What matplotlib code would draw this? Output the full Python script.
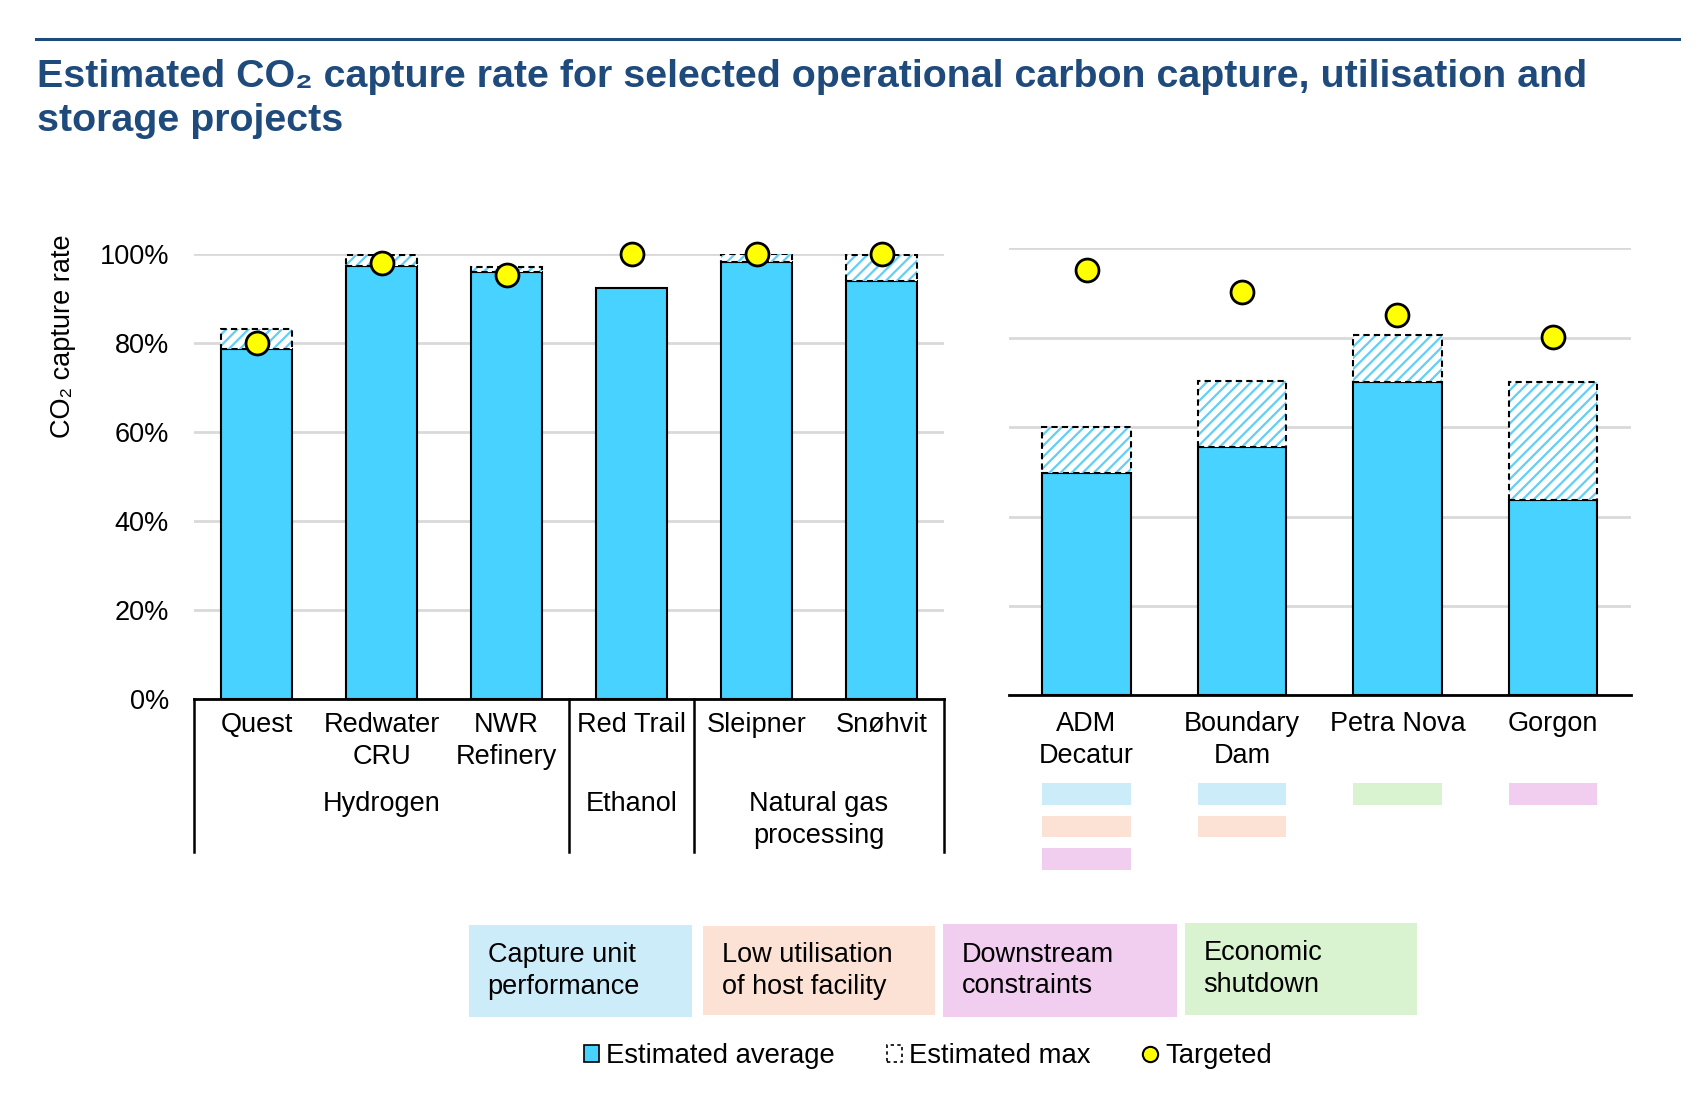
import matplotlib
matplotlib.use("Agg")
import matplotlib.pyplot as plt
from matplotlib.patches import Rectangle, Patch
from matplotlib.lines import Line2D
import matplotlib.transforms as mtransforms

plt.rcParams['font.family'] = ['Liberation Sans', 'DejaVu Sans']
plt.rcParams['hatch.linewidth'] = 1.6

# ---------------- data ----------------
left_projects = ["Quest", "Redwater\nCRU", "NWR\nRefinery", "Red Trail", "Sleipner", "Snøhvit"]
left_avg = [78.7, 97.3, 96.0, 92.2, 98.2, 93.8]
left_max = [83.1, 99.7, 97.0, 92.2, 99.9, 99.7]
left_target = [80.0, 98.0, 95.2, 100.0, 100.0, 100.0]
left_groups = ["Hydrogen", "Ethanol", "Natural gas\nprocessing"]
left_group_bounds = [(-0.5, 2.5), (2.5, 3.5), (3.5, 5.5)]

right_projects = ["ADM\nDecatur", "Boundary\nDam", "Petra Nova", "Gorgon"]
right_avg = [49.7, 55.6, 70.1, 43.8]
right_max = [60.1, 70.4, 80.6, 70.1]
right_target = [95.2, 90.2, 85.1, 80.1]
right_reasons = [["capture", "utilisation", "downstream"],
                 ["capture", "utilisation"],
                 ["economic"],
                 ["downstream"]]

reason_labels = {"capture": "Capture unit\nperformance",
                 "utilisation": "Low utilisation\nof host facility",
                 "downstream": "Downstream\nconstraints",
                 "economic": "Economic\nshutdown"}
reason_colors = {"capture": "#CCECFA", "utilisation": "#FBE2D5",
                 "downstream": "#F1CDF0", "economic": "#D9F2D0"}

yticks = [0, 20, 40, 60, 80, 100]
ytick_labels = ["0%", "20%", "40%", "60%", "80%", "100%"]

# ---------------- style ----------------
BAR = "#47D2FF"
HATCH = "#62CFF5"
TITLE_C = "#1F4A7C"
GRID = "#D9D9D9"
FS = 19.5
W = 0.57
LS = 1.28

fig = plt.figure(figsize=(17.01, 10.93), dpi=100)

# title + top rule
fig.add_artist(Line2D([36/1701, 1679/1701], [1 - 39/1093, 1 - 39/1093],
                      color=TITLE_C, lw=2.2))
fig.text(37/1701, 1 - 59/1093,
         "Estimated CO₂ capture rate for selected operational carbon capture, utilisation and\nstorage projects",
         ha="left", va="top", fontsize=28.4, fontweight="bold", color=TITLE_C,
         linespacing=1.27)

axL = fig.add_axes([0.1141, 0.3608, 0.4409, 0.4070])
axR = fig.add_axes([0.5931, 0.3638, 0.3655, 0.4089])


def draw(ax, avg, mx, tg):
    x = list(range(len(avg)))
    ext = [m - a for m, a in zip(mx, avg)]
    ax.bar(x, avg, width=W, color=BAR, edgecolor="black", linewidth=1.5, zorder=3)
    ax.bar(x, ext, bottom=avg, width=W, color="white", edgecolor=HATCH,
           hatch="///", linewidth=0, zorder=3)
    for xi, a, e in zip(x, avg, ext):
        if e > 0.05:
            ax.add_patch(Rectangle((xi - W/2, a), W, e, fill=False, edgecolor="black",
                                   linestyle=(0, (3, 2)), linewidth=1.5, zorder=4))
    ax.plot(x, tg, linestyle="none", marker="o", markersize=16.5,
            markerfacecolor="#FFFF00", markeredgecolor="black", markeredgewidth=2,
            zorder=5, clip_on=False)
    ax.set_xlim(-0.5, len(avg) - 0.5)
    ax.set_ylim(0, 100)
    ax.set_yticks(yticks)
    ax.yaxis.grid(True, color=GRID, lw=2, zorder=0)
    ax.set_axisbelow(True)
    for s in ["top", "right", "left"]:
        ax.spines[s].set_visible(False)
    ax.spines["bottom"].set_linewidth(2)
    ax.spines["bottom"].set_zorder(6)
    ax.set_xticks([])
    ax.tick_params(axis="y", length=0, labelsize=FS, pad=18)


draw(axL, left_avg, left_max, left_target)
draw(axR, right_avg, right_max, right_target)
axL.set_yticklabels(ytick_labels)
axR.set_yticklabels([])

fig.text(63/1701, 1 - 336/1093, "CO₂ capture rate", rotation=90,
         ha="center", va="center", fontsize=FS)

# left category labels and group labels
trL = mtransforms.blended_transform_factory(axL.transData, axL.transAxes)
for i, lab in enumerate(left_projects):
    axL.text(i, -0.031, lab, transform=trL, ha="center", va="top",
             fontsize=FS, linespacing=LS)
for (a, b), g in zip(left_group_bounds, left_groups):
    axL.text((a + b) / 2, -0.208, g, transform=trL, ha="center", va="top",
             fontsize=FS, linespacing=LS)
bounds = sorted(set([v for ab in left_group_bounds for v in ab]))
for xb in bounds:
    axL.add_line(Line2D([xb, xb], [0, -0.344], transform=trL, color="black",
                        lw=1.8, clip_on=False))

# right category labels and reason swatches
trR = mtransforms.blended_transform_factory(axR.transData, axR.transAxes)
for i, lab in enumerate(right_projects):
    axR.text(i, -0.035, lab, transform=trR, ha="center", va="top",
             fontsize=FS, linespacing=LS)
for i, reasons in enumerate(right_reasons):
    for k, r in enumerate(reasons):
        y0 = -0.2452 - k * 0.0727
        axR.add_patch(Rectangle((i - W/2, y0), W, 0.0488, transform=trR,
                                facecolor=reason_colors[r], edgecolor="none",
                                clip_on=False))

# reason boxes
boxes = [("capture", 468.6, 692.1, 925.3, 1016.5),
         ("utilisation", 703.0, 935.1, 926.4, 1015.4),
         ("downstream", 942.7, 1177.0, 924.2, 1016.5),
         ("economic", 1184.6, 1416.8, 923.2, 1015.4)]
for r, x0, x1, y0, y1 in boxes:
    fig.add_artist(Rectangle((x0/1701, 1 - y1/1093), (x1 - x0)/1701, (y1 - y0)/1093,
                             transform=fig.transFigure, facecolor=reason_colors[r],
                             edgecolor="none"))
    fig.text((x0 + 19)/1701, 1 - ((y0 + y1)/2)/1093, reason_labels[r],
             ha="left", va="center", fontsize=FS, linespacing=LS)

# legend
handles = [Patch(facecolor=BAR, edgecolor="black", linewidth=1.2),
           Patch(facecolor="white", edgecolor="black", linestyle=(0, (2, 2)), linewidth=1.2),
           Line2D([], [], linestyle="none", marker="o", markersize=11,
                  markerfacecolor="#FFFF00", markeredgecolor="black", markeredgewidth=1.5)]
fig.legend(handles, ["Estimated average", "Estimated max", "Targeted"],
           loc="center", bbox_to_anchor=(0.5455, 0.0335), ncol=3, frameon=False,
           fontsize=FS + 0.3, handlelength=0.55, handleheight=0.55, handletextpad=0.25,
           columnspacing=1.9)

fig.savefig("out.png", dpi=100)
